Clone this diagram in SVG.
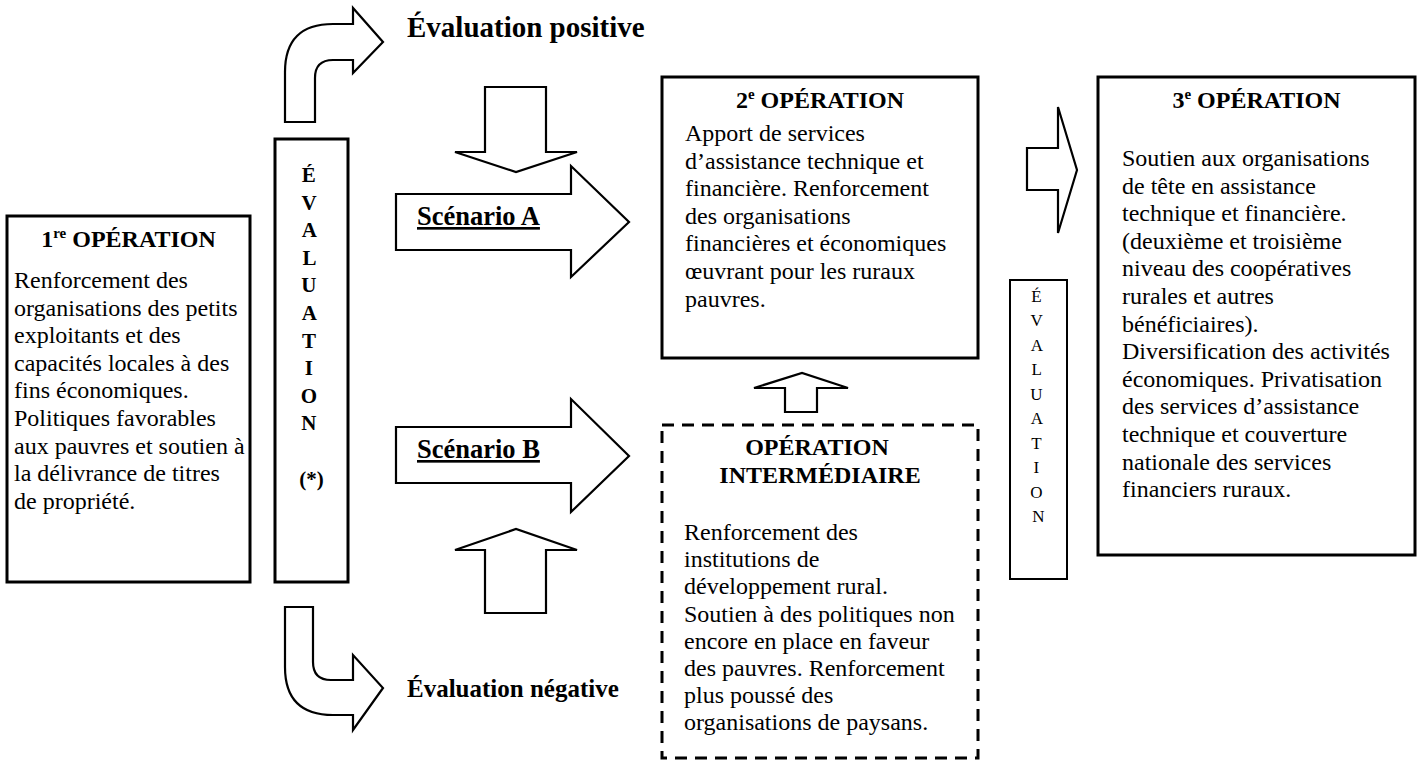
<svg xmlns="http://www.w3.org/2000/svg" width="1422" height="765" viewBox="0 0 1422 765">
<style>
text{font-family:"Liberation Serif","Times New Roman",serif;fill:#000}
.box{fill:#fff;stroke:#000;stroke-width:3}
.thin{fill:#fff;stroke:#000;stroke-width:2}
.dash{fill:#fff;stroke:#000;stroke-width:3;stroke-dasharray:12 8}
.arr{fill:#fff;stroke:#000;stroke-width:2.2;stroke-linejoin:miter}
.title{font-size:24px;font-weight:bold;text-anchor:middle}
.body{font-size:24px}
.sc{font-size:26.5px;font-weight:bold;text-decoration:underline}
.ev{font-size:21px;font-weight:bold;text-anchor:middle}
.evs{font-size:17px;text-anchor:middle}
</style>
<rect width="1422" height="765" fill="#fff"/>
<g id="connectors">
<path class="arr" d="M285,122 L285,72 Q285,24 333,24 L353,24 L353,8 L383,42 L353,73 L353,60 L333,60 Q315,60 315,78 L315,122 Z"/>
<path class="arr" d="M285,607 L313,607 L313,662 Q313,680 331,680 L353,680 L353,655 L383,688 L353,730 L353,715 L333,715 Q285,715 285,667 Z"/>
<polygon class="arr" points="485,87 546,87 546,152 577,152 516,172 455,152 485,152"/>
<polygon class="arr" points="485,613 546,613 546,550 577,550 516,529 455,550 485,550"/>
<polygon class="arr" points="396,194 571,194 571,166 629,222 571,277 571,250 396,250"/>
<polygon class="arr" points="396,427 571,427 571,399 629,456 571,512 571,483 396,483"/>
<polygon class="arr" points="785,412 817,412 817,388 848,388 802,373 754,388 785,388"/>
<polygon class="arr" points="1027,148 1058,148 1058,107 1077,170 1058,233 1058,190 1027,190"/>
</g>
<g id="label-positive"><text x="407" y="37" font-size="29" font-weight="bold">Évaluation positive</text></g>
<g id="label-negative"><text x="407" y="697" font-size="25" font-weight="bold">Évaluation négative</text></g>
<g id="label-scenario-a"><text class="sc" x="417" y="225">Scénario A</text></g>
<g id="label-scenario-b"><text class="sc" x="417" y="458">Scénario B</text></g>
<g id="op1">
<rect class="box" x="7" y="216" width="243" height="366"/>
<text class="title" x="128.5" y="247">1<tspan dy="-9" font-size="15">re</tspan><tspan dy="9"> OPÉRATION</tspan></text>
<text class="body" x="14" y="288">
<tspan x="14">Renforcement des</tspan>
<tspan x="14" dy="27.6">organisations des petits</tspan>
<tspan x="14" dy="27.6">exploitants et des</tspan>
<tspan x="14" dy="27.6">capacités locales à des</tspan>
<tspan x="14" dy="27.6">fins économiques.</tspan>
<tspan x="14" dy="27.6">Politiques favorables</tspan>
<tspan x="14" dy="27.6">aux pauvres et soutien à</tspan>
<tspan x="14" dy="27.6">la délivrance de titres</tspan>
<tspan x="14" dy="27.6">de propriété.</tspan>
</text>
</g>
<g id="evaluation">
<rect class="box" x="275" y="139" width="73" height="443"/>
<text class="ev" x="311.5" y="182">
<tspan x="311.5">É</tspan>
<tspan x="311.5" dy="27.6">V</tspan>
<tspan x="311.5" dy="27.6">A</tspan>
<tspan x="311.5" dy="27.6">L</tspan>
<tspan x="311.5" dy="27.6">U</tspan>
<tspan x="311.5" dy="27.6">A</tspan>
<tspan x="311.5" dy="27.6">T</tspan>
<tspan x="311.5" dy="27.6">I</tspan>
<tspan x="311.5" dy="27.6">O</tspan>
<tspan x="311.5" dy="27.6">N</tspan>
<tspan x="311.5" dy="55.2">(*)</tspan>
</text>
</g>
<g id="op2">
<rect class="box" x="662" y="77" width="316" height="281"/>
<text class="title" x="820" y="108">2<tspan dy="-9" font-size="15">e</tspan><tspan dy="9"> OPÉRATION</tspan></text>
<text class="body" x="685" y="141">
<tspan x="685">Apport de services</tspan>
<tspan x="685" dy="27.6">d’assistance technique et</tspan>
<tspan x="685" dy="27.6">financière. Renforcement</tspan>
<tspan x="685" dy="27.6">des organisations</tspan>
<tspan x="685" dy="27.6">financières et économiques</tspan>
<tspan x="685" dy="27.6">œuvrant pour les ruraux</tspan>
<tspan x="685" dy="27.6">pauvres.</tspan>
</text>
</g>
<g id="op-intermediaire">
<rect class="dash" x="662" y="425" width="316" height="333"/>
<text class="title" x="820" y="455">
<tspan x="820">OPÉRATION</tspan>
<tspan x="820" dy="28">INTERMÉDIAIRE</tspan>
</text>
<text class="body" x="684" y="540">
<tspan x="684">Renforcement des</tspan>
<tspan x="684" dy="27.2">institutions de</tspan>
<tspan x="684" dy="27.2">développement rural.</tspan>
<tspan x="684" dy="27.2">Soutien à des politiques non</tspan>
<tspan x="684" dy="27.2">encore en place en faveur</tspan>
<tspan x="684" dy="27.2">des pauvres. Renforcement</tspan>
<tspan x="684" dy="27.2">plus poussé des</tspan>
<tspan x="684" dy="27.2">organisations de paysans.</tspan>
</text>
</g>
<g id="evaluation-2">
<rect class="thin" x="1010" y="280" width="57" height="299"/>
<text class="evs" x="1038.5" y="301.5">
<tspan x="1038.5">É</tspan>
<tspan x="1038.5" dy="24.5">V</tspan>
<tspan x="1038.5" dy="24.5">A</tspan>
<tspan x="1038.5" dy="24.5">L</tspan>
<tspan x="1038.5" dy="24.5">U</tspan>
<tspan x="1038.5" dy="24.5">A</tspan>
<tspan x="1038.5" dy="24.5">T</tspan>
<tspan x="1038.5" dy="24.5">I</tspan>
<tspan x="1038.5" dy="24.5">O</tspan>
<tspan x="1038.5" dy="24.5">N</tspan>
</text>
</g>
<g id="op3">
<rect class="box" x="1098" y="77" width="317" height="478"/>
<text class="title" x="1256.5" y="108">3<tspan dy="-9" font-size="15">e</tspan><tspan dy="9"> OPÉRATION</tspan></text>
<text class="body" x="1122" y="166">
<tspan x="1122">Soutien aux organisations</tspan>
<tspan x="1122" dy="27.6">de tête en assistance</tspan>
<tspan x="1122" dy="27.6">technique et financière.</tspan>
<tspan x="1122" dy="27.6">(deuxième et troisième</tspan>
<tspan x="1122" dy="27.6">niveau des coopératives</tspan>
<tspan x="1122" dy="27.6">rurales et autres</tspan>
<tspan x="1122" dy="27.6">bénéficiaires).</tspan>
<tspan x="1122" dy="27.6">Diversification des activités</tspan>
<tspan x="1122" dy="27.6">économiques. Privatisation</tspan>
<tspan x="1122" dy="27.6">des services d’assistance</tspan>
<tspan x="1122" dy="27.6">technique et couverture</tspan>
<tspan x="1122" dy="27.6">nationale des services</tspan>
<tspan x="1122" dy="27.6">financiers ruraux.</tspan>
</text>
</g>
</svg>
